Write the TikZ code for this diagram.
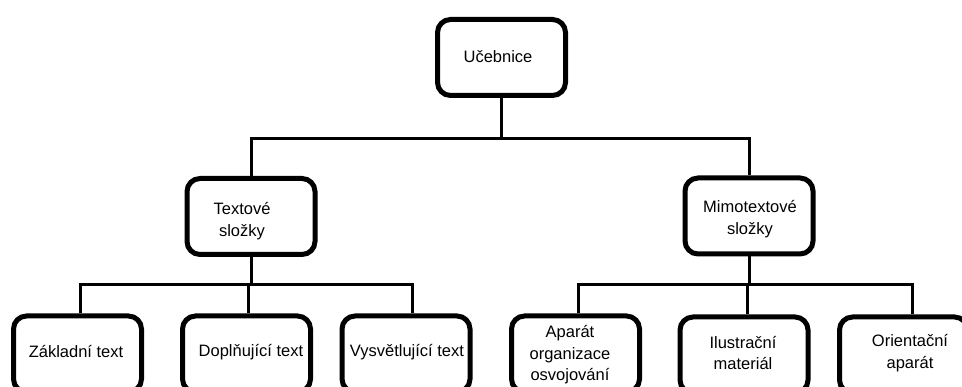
\documentclass[tikz,border=0pt]{standalone}
\usepackage{fontspec}
\setmainfont{Liberation Sans}
\begin{document}
\begin{tikzpicture}[x=1pt,y=-1pt,
  box/.style={draw=black, line width=5pt, rounded corners=13pt, fill=white,
    minimum width=128pt, minimum height=76pt, inner sep=0pt},
  lbl/.style={align=center, inner sep=0pt, font=\fontsize{16.5}{21.5}\selectfont, text=black},
  conn/.style={draw=black, line width=3pt}]
\useasboundingbox (0,0) rectangle (962,387);
\clip (0,0) rectangle (962,387);
% boxes
\node[box] (u) at (501.5,57.5) {};
\node[box] (t) at (251,216.5) {};
\node[box] (m) at (749,216) {};
\node[box] (b1) at (77.5,354) {};
\node[box] (b2) at (246.5,354) {};
\node[box] (b3) at (406,354) {};
\node[box] (b4) at (575.5,354) {};
\node[box] (b5) at (744,355) {};
\node[box] (b6) at (903.5,355) {};
% labels
\node[lbl] (lu) at (498,57) {Učebnice};
\node[lbl] (lt) at (242,221) {Textové\\složky};
\node[lbl] (lm) at (750,219) {Mimotextové\\složky};
\node[lbl] (l1) at (76,352) {Základní text};
\node[lbl] (l2) at (251,352) {Doplňující text};
\node[lbl] (l3) at (407,352) {Vysvětlující text};
\node[lbl] (l4) at (570,355) {Aparát\\organizace\\osvojování};
\node[lbl] (l5) at (743,353) {Ilustrační\\materiál};
\node[lbl] (l6) at (910,353) {Orientační\\aparát};
% junction coordinates
\coordinate (j0) at (501.5,139);
\coordinate (jt) at (251,285);
\coordinate (jm) at (749,285);
\coordinate (h1) at (80,285);
\coordinate (h2) at (248,285);
\coordinate (h3) at (412,285);
\coordinate (h4) at (578,285);
\coordinate (h5) at (747,285);
\coordinate (h6) at (912,285);
% connectors
\draw[conn] (u.south) -- (j0);
\draw[conn] (t.north) -- (t.north |- j0) -- (m.north |- j0) -- (m.north);
\draw[conn] (t.south) -- (jt);
\draw[conn] (h1 |- b1.north) -- (h1) -- (h3) -- (h3 |- b3.north);
\draw[conn] (h2) -- (h2 |- b2.north);
\draw[conn] (m.south) -- (jm);
\draw[conn] (h4 |- b4.north) -- (h4) -- (h6) -- (h6 |- b6.north);
\draw[conn] (h5) -- (h5 |- b5.north);
\end{tikzpicture}
\end{document}
